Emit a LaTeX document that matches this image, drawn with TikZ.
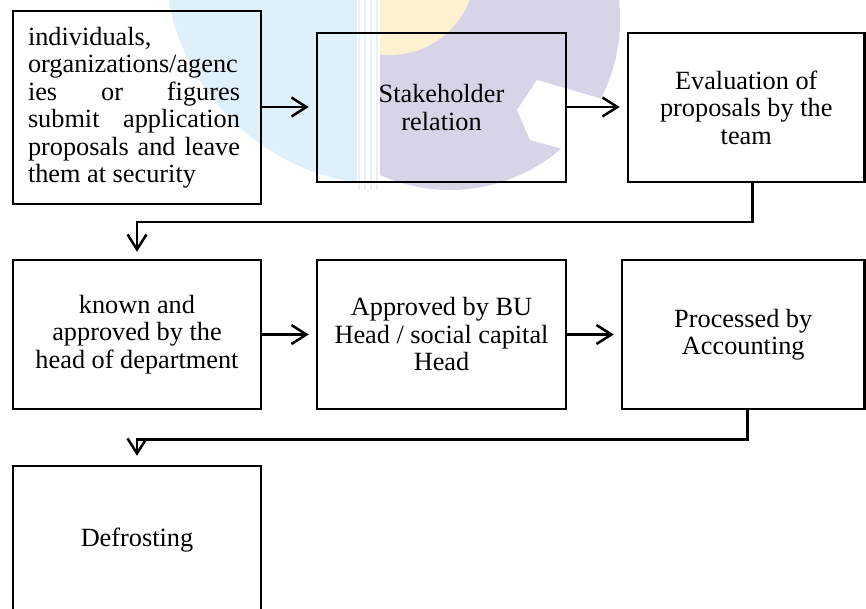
\documentclass[tikz,border=0pt]{standalone}
\usepackage{fontspec}
\setmainfont{Liberation Serif}
\usetikzlibrary{arrows.meta,calc}

\definecolor{wmblue}{HTML}{DFF0FA}
\definecolor{wmpurple}{HTML}{D8D4E7}
\definecolor{wmyellow}{HTML}{FDF2CF}
\definecolor{wmline}{HTML}{E6F2FA}

% plain interword spaces inside aligned nodes
\newcommand{\wsp}{\spaceskip=0pt\xspaceskip=0pt\relax}
% a justified line spread over the full text width
\newcommand{\fullline}[1]{\makebox[212pt][s]{\spaceskip=0.25em plus 1fil\relax #1}}

\tikzset{
  stepbox/.style={draw=black, line width=2.5pt, inner sep=0pt,
    font={\fontsize{26.3}{27.5}\selectfont}, align=center},
  arr/.style={line width=2.5pt, -{Straight Barb[length=15pt,width=19pt]},
    shorten >=7pt},
}

\begin{document}
\begin{tikzpicture}[x=1pt,y=-1pt]
\useasboundingbox (0,0) rectangle (866,609);
\fill[white] (0,0) rectangle (866,609);
\clip (0,0) rectangle (866,609);

% faint logo behind the first row
\begin{scope}
  \clip (0,0) rectangle (866,195);
  \begin{scope}
    \clip (0,0) rectangle (357,200);
    \fill[wmblue] (390,-40) circle (225);
  \end{scope}
  \begin{scope}
    \clip (380,0) rectangle (866,200);
    \fill[wmpurple] (450,20) circle (170);
    \fill[white] (517,110) -- (537,80) -- (640,110) -- (640,170) -- (530,140) -- cycle;
    \fill[wmyellow] (390,-30) circle (85);
  \end{scope}
  \foreach \lx in {359,365,371,377}
    \draw[wmline, line width=2.5pt] (\lx,0) -- (\lx,190);
\end{scope}

% first row
\node[stepbox, minimum width=248, minimum height=193, text width=218pt, align=left]
  (n1) at (137,107.5) {\wsp individuals,\\
  \fullline{organizations/agenc}\\
  \fullline{ies or figures}\\
  \fullline{submit application}\\
  \fullline{proposals and leave}\\
  them at security};
\node[stepbox, minimum width=249, minimum height=149] (n2) at (441.5,107.5)
  {\wsp Stakeholder\\relation};
\node[stepbox, minimum width=236.5, minimum height=149] (n3) at (746.25,107.5)
  {\wsp Evaluation of\\proposals by the\\team};

% second row
\node[stepbox, minimum width=248, minimum height=149] (n4) at (137,334.5)
  {\wsp known and\\approved by the\\head of department};
\node[stepbox, minimum width=249, minimum height=149] (n5) at (441.5,334.5)
  {\wsp Approved by BU\\Head / social capital\\Head};
\node[stepbox, minimum width=242.5, minimum height=149] (n6) at (743.25,334.5)
  {\wsp Processed by\\Accounting};

% last step
\node[stepbox, minimum width=248, minimum height=148] (n7) at (137,540)
  {Defrosting};

% connectors
\draw[arr] (n1.east |- 0,107) -- (n2.west |- 0,107);
\draw[arr] (n2.east |- 0,107) -- (n3.west |- 0,107);
\draw[arr] ([xshift=6pt]n3.south) -- ++(0,39) -| (n4.north);
\draw[arr] (n4) -- (n5);
\draw[arr] (n5) -- (n6);
\draw[arr, shorten >=9pt] ([xshift=4pt]n6.south) -- ++(0,29) -| (n7.north);
\end{tikzpicture}
\end{document}
